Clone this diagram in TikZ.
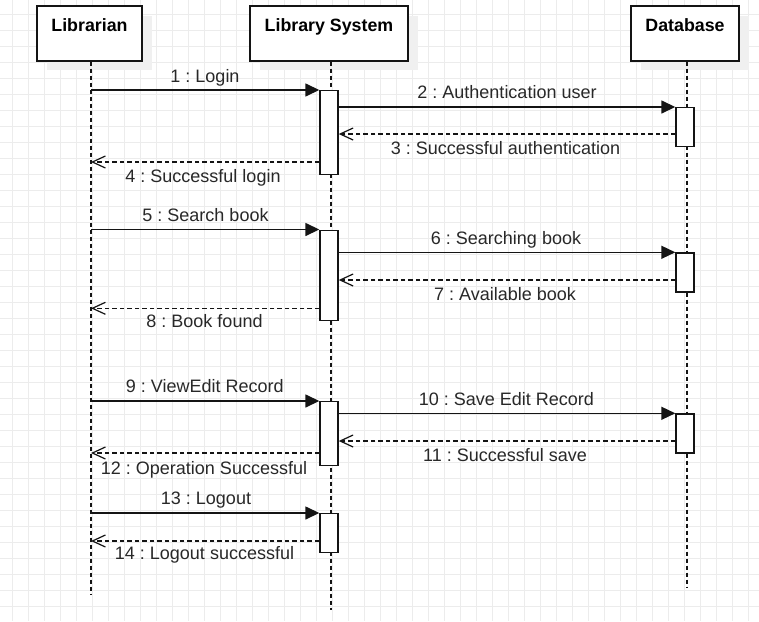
\documentclass[tikz,border=0pt]{standalone}
\usepackage{fontspec}
\setmainfont{Liberation Sans}
\usetikzlibrary{arrows.meta}
\definecolor{gridc}{RGB}{236,236,236}
\definecolor{shadowc}{RGB}{240,240,240}
\definecolor{txt}{RGB}{40,40,40}
\definecolor{ln}{RGB}{20,20,20}
\frenchspacing
\begin{document}
\begin{tikzpicture}[x=1pt,y=-1pt,
  gridline/.style={draw=gridc,line width=1pt},
  head/.style={draw=ln,fill=white,line width=1.4pt,minimum width=105pt,minimum height=55pt,inner sep=0pt,
     font=\fontsize{17.8}{20}\selectfont\bfseries,text height=13pt,text depth=18pt},
  act/.style={draw=ln,fill=white,line width=1.4pt,minimum width=18pt,inner sep=0pt,anchor=north},
  life/.style={draw=ln,line width=1.3pt,dash pattern=on 4pt off 3pt},
  msg/.style={draw=ln,line width=1.5pt,-{Triangle[length=14pt,width=13pt]}},
  ret/.style={draw=ln,line width=1.2pt,dash pattern=on 4.5pt off 3pt,-{Straight Barb[length=13pt,width=12pt,line width=1.2pt]}},
  lbl/.style={font=\fontsize{18}{20}\selectfont\frenchspacing,text=txt,anchor=base,inner sep=0pt}]
\useasboundingbox (0,0) rectangle (759,621);
\fill[white] (0,0) rectangle (759,621);
\foreach \x in {12.3,28.3,...,759} \draw[gridline] (\x,0) -- (\x,621);
\foreach \y in {14.3,30.3,...,621} \draw[gridline] (0,\y) -- (759,\y);

% shadows
\fill[shadowc] (47,16) rectangle (152,70);
\fill[shadowc] (260,16) rectangle (418,70);
\fill[shadowc] (641,16) rectangle (749,70);

% heads
\node[head] (lib) at (89.5,33.5) {Librarian};
\node[head,minimum width=158pt] (sys) at (329,33.5) {Library System};
\node[head,minimum width=108pt] (db) at (685,33.5) {Database};

% lifeline ends
\coordinate (libend) at (91,595);
\coordinate (sysend) at (331,610);
\coordinate (dbend) at (687,587);
\draw[life] (lib.south -| libend) -- (libend);
\draw[life] (sys.south -| sysend) -- (sysend);
\draw[life] (db.south -| dbend) -- (dbend);

% activations
\node[act,minimum height=84pt] (a1) at (329,90) {};
\node[act,minimum height=39pt] (d1) at (685,107) {};
\node[act,minimum height=90pt] (a2) at (329,229.5) {};
\node[act,minimum height=39pt] (d2) at (685,252.3) {};
\node[act,minimum height=64pt] (a3) at (329,401) {};
\node[act,minimum height=39pt] (d3) at (685,413.3) {};
\node[act,minimum height=38.5pt] (a4) at (329,513) {};

% message endpoints on the librarian lifeline
\coordinate (l1) at (91,90);
\coordinate (l4) at (91,162);
\coordinate (l5) at (91,229.5);
\coordinate (l8) at (91,308.3);
\coordinate (l9) at (91,401);
\coordinate (l12) at (91,453);
\coordinate (l13) at (91,513);
\coordinate (l14) at (91,541);

% group 1
\draw[msg] (l1) -- (a1.north west);
\draw[msg] (a1.east |- d1.north) -- (d1.north west);
\draw[ret] (d1.west |- 0,134) -- (a1.east |- 0,134);
\draw[ret] (a1.west |- l4) -- (l4);
\node[lbl] (t1) at (205,82) {1 : Login};
\node[lbl] (t2) at (507,98.7) {2 : Authentication user};
\node[lbl] (t3) at (505.5,154) {3 : Successful authentication};
\node[lbl] (t4) at (203,182.7) {4 : Successful login};

% group 2
\draw[msg] (l5) -- (a2.north west);
\draw[msg] (a2.east |- d2.north) -- (d2.north west);
\draw[ret] (d2.west |- 0,280) -- (a2.east |- 0,280);
\draw[ret] (a2.west |- l8) -- (l8);
\node[lbl] (t5) at (205.5,221.7) {5 : Search book};
\node[lbl] (t6) at (506,244.3) {6 : Searching book};
\node[lbl] (t7) at (505,300) {7 : Available book};
\node[lbl] (t8) at (204.5,327.7) {8 : Book found};

% group 3
\draw[msg] (l9) -- (a3.north west);
\draw[msg] (a3.east |- d3.north) -- (d3.north west);
\draw[ret] (d3.west |- 0,441) -- (a3.east |- 0,441);
\draw[ret] (a3.west |- l12) -- (l12);
\node[lbl] (t9) at (204.7,392) {9 : ViewEdit Record};
\node[lbl] (t10) at (506.3,405) {10 : Save Edit Record};
\node[lbl] (t11) at (505,461) {11 : Successful save};
\node[lbl] (t12) at (204,474) {12 : Operation Successful};

% group 4
\draw[msg] (l13) -- (a4.north west);
\draw[ret] (a4.west |- l14) -- (l14);
\node[lbl] (t13) at (206,504.3) {13 : Logout};
\node[lbl] (t14) at (204.5,559) {14 : Logout successful};
\end{tikzpicture}
\end{document}
